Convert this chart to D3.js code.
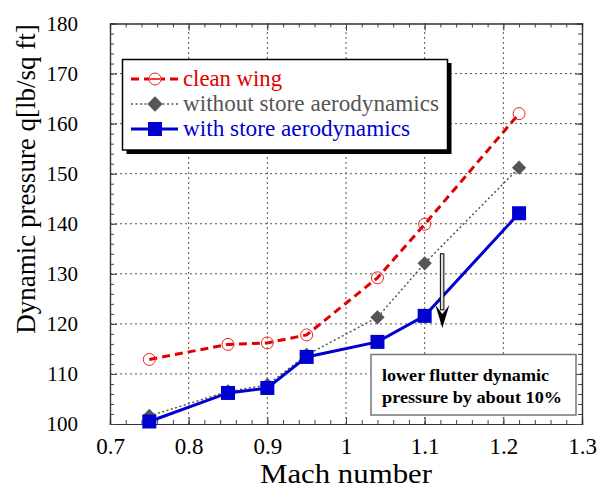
<!DOCTYPE html>
<html>
<head>
<meta charset="utf-8">
<script src="https://cdn.jsdelivr.net/npm/d3@7"></script>
<style>
  body { margin: 0; background: #fff; }
  svg text { font-family: "Liberation Serif", "Times New Roman", serif; }
</style>
</head>
<body>
<div id="chart"></div>
<script>
// values
const mach = [0.75, 0.85, 0.90, 0.95, 1.04, 1.10, 1.22];
const cleanWing = [112.9, 115.9, 116.2, 117.8, 129.2, 139.9, 162.0];
const withoutStoreAero = [101.6, 106.5, 107.8, 113.8, 121.3, 132.1, 151.2];
const withStoreAero = [100.5, 106.2, 107.2, 113.4, 116.4, 121.6, 142.1];

const xTicks = [0.7, 0.8, 0.9, 1.0, 1.1, 1.2, 1.3];
const yTicks = [100, 110, 120, 130, 140, 150, 160, 170, 180];
const seriesNames = ["clean wing", "without store aerodynamics", "with store aerodynamics"];
const noteLines = ["lower flutter dynamic", "pressure by about 10%"];
// arrow: at mach ~1.12, from 134 down to ~119.5
const arrowMach = 1.1225, arrowFrom = 134, arrowTo = 119.2;

const W = 598, H = 490;
const margin = {top: 23.5, right: 16, bottom: 66, left: 110};
const serif = "Liberation Serif";

const svg = d3.select("#chart").append("svg")
    .attr("width", W).attr("height", H)
    .attr("font-family", serif);

const x = d3.scaleLinear().domain([0.7, 1.3]).range([margin.left, W - margin.right]);
const y = d3.scaleLinear().domain([100, 180]).range([H - margin.bottom, margin.top]);

const x0 = x.range()[0], x1 = x.range()[1];
const y0 = y.range()[0], y1 = y.range()[1];

// grid
const grid = svg.append("g").attr("stroke", "#555").attr("stroke-width", 1)
    .attr("stroke-dasharray", "2,3");
grid.selectAll(".gx").data(xTicks.slice(1, -1)).join("line")
    .attr("x1", d => x(d)).attr("x2", d => x(d)).attr("y1", y0).attr("y2", y1);
grid.selectAll(".gy").data(yTicks.slice(1, -1)).join("line")
    .attr("y1", d => y(d)).attr("y2", d => y(d)).attr("x1", x0).attr("x2", x1);

// inward ticks on all four sides
const xMinor = d3.range(0.7, 1.3001, 0.02);
const yMinor = d3.range(100, 180.001, 2);
const fmt = d3.format("~g");

svg.append("g").attr("transform", `translate(0,${y0})`)
    .call(d3.axisBottom(x).tickValues(xMinor).tickSize(-4).tickFormat(""));
svg.append("g").attr("class", "xaxis").attr("transform", `translate(0,${y0})`)
    .call(d3.axisBottom(x).tickValues(xTicks).tickSize(-7).tickPadding(14).tickFormat(fmt));
svg.append("g").attr("transform", `translate(0,${y1})`)
    .call(d3.axisTop(x).tickValues(xMinor).tickSize(-4).tickFormat(""));
svg.append("g").attr("transform", `translate(0,${y1})`)
    .call(d3.axisTop(x).tickValues(xTicks).tickSize(-7).tickFormat(""));
svg.append("g").attr("transform", `translate(${x0},0)`)
    .call(d3.axisLeft(y).tickValues(yMinor).tickSize(-4).tickFormat(""));
svg.append("g").attr("class", "yaxis").attr("transform", `translate(${x0},0)`)
    .call(d3.axisLeft(y).tickValues(yTicks).tickSize(-7).tickPadding(32).tickFormat(fmt));
svg.append("g").attr("transform", `translate(${x1},0)`)
    .call(d3.axisRight(y).tickValues(yMinor).tickSize(-4).tickFormat(""));
svg.append("g").attr("transform", `translate(${x1},0)`)
    .call(d3.axisRight(y).tickValues(yTicks).tickSize(-7).tickFormat(""));

svg.selectAll("g").attr("font-family", serif);
svg.selectAll(".domain").attr("stroke", "#333").attr("stroke-width", 1.2);
svg.selectAll(".tick line").attr("stroke", "#444");
svg.selectAll(".xaxis .tick text").attr("fill", "#000").attr("font-size", 23).attr("font-family", serif);
svg.selectAll(".yaxis .tick text").attr("fill", "#000").attr("font-size", 21).attr("font-family", serif);

// axis titles
svg.append("text").attr("x", (x0 + x1) / 2).attr("y", 482.5)
    .attr("text-anchor", "middle").attr("font-size", 28).attr("font-family", serif)
    .attr("textLength", 172).attr("lengthAdjust", "spacingAndGlyphs")
    .text("Mach number");
svg.append("text").attr("transform", "translate(35,179) rotate(-90)")
    .attr("text-anchor", "middle").attr("font-size", 27).attr("font-family", serif)
    .text("Dynamic pressure q[lb/sq ft]");

// lines
const pts = vals => mach.map((m, i) => [x(m), y(vals[i])]);
const line = d3.line();

const g = svg.append("g");
g.append("path").attr("d", line(pts(withoutStoreAero))).attr("fill", "none")
    .attr("stroke", "#555").attr("stroke-width", 1.5).attr("stroke-dasharray", "2,2.5");
g.selectAll(".dia").data(pts(withoutStoreAero)).join("path")
    .attr("d", d3.symbol(d3.symbolDiamond2, 130))
    .attr("transform", d => `translate(${d[0]},${d[1]})`)
    .attr("fill", "#555");

g.append("path").attr("d", line(pts(cleanWing))).attr("fill", "none")
    .attr("stroke", "#e00000").attr("stroke-width", 3).attr("stroke-dasharray", "8,5");
g.selectAll(".circ").data(pts(cleanWing)).join("circle")
    .attr("cx", d => d[0]).attr("cy", d => d[1]).attr("r", 6)
    .attr("fill", "none").attr("stroke", "#f02020").attr("stroke-width", 1);

g.append("path").attr("d", line(pts(withStoreAero))).attr("fill", "none")
    .attr("stroke", "#0000d0").attr("stroke-width", 3);
g.selectAll(".sq").data(pts(withStoreAero)).join("rect")
    .attr("x", d => d[0] - 7).attr("y", d => d[1] - 7)
    .attr("width", 14).attr("height", 14).attr("fill", "#0000d0");

// legend
const lg = svg.append("g");
lg.append("rect").attr("x", 126.5).attr("y", 63).attr("width", 325).attr("height", 91).attr("fill", "#000");
lg.append("rect").attr("x", 122.5).attr("y", 59.5).attr("width", 325).attr("height", 90.5)
    .attr("fill", "#fff").attr("stroke", "#000").attr("stroke-width", 1.5);
const rowY = [79, 104, 129];
const colors = ["#e00000", "#555", "#0000d0"];
const textW = [99, 256, 227];
const lx0 = 131, lx1 = 178, lxm = 155;
lg.append("line").attr("x1", lx0).attr("x2", lx1).attr("y1", rowY[0]).attr("y2", rowY[0])
    .attr("stroke", colors[0]).attr("stroke-width", 3).attr("stroke-dasharray", "8,5");
lg.append("circle").attr("cx", lxm).attr("cy", rowY[0]).attr("r", 6)
    .attr("fill", "#fff").attr("stroke", "#f02020");
lg.append("line").attr("x1", lxm - 5).attr("x2", lxm + 5).attr("y1", rowY[0]).attr("y2", rowY[0])
    .attr("stroke", colors[0]).attr("stroke-width", 1.5);
lg.append("line").attr("x1", lx0).attr("x2", lx1).attr("y1", rowY[1]).attr("y2", rowY[1])
    .attr("stroke", colors[1]).attr("stroke-width", 1.5).attr("stroke-dasharray", "2,2.5");
lg.append("path").attr("d", d3.symbol(d3.symbolDiamond2, 150))
    .attr("transform", `translate(${lxm},${rowY[1]})`).attr("fill", colors[1]);
lg.append("line").attr("x1", lx0).attr("x2", lx1).attr("y1", rowY[2]).attr("y2", rowY[2])
    .attr("stroke", colors[2]).attr("stroke-width", 3);
lg.append("rect").attr("x", lxm - 7).attr("y", rowY[2] - 7).attr("width", 14).attr("height", 14)
    .attr("fill", colors[2]);
lg.selectAll(".lt").data(seriesNames).join("text")
    .attr("x", 183).attr("y", (d, i) => rowY[i] + 7)
    .attr("fill", (d, i) => colors[i]).attr("font-size", 22.5).attr("font-family", serif)
    .attr("textLength", (d, i) => textW[i]).attr("lengthAdjust", "spacingAndGlyphs")
    .text(d => d);

// annotation box
svg.append("rect").attr("x", 371).attr("y", 354.5).attr("width", 205).attr("height", 60.5)
    .attr("fill", "#fff").attr("stroke", "#777").attr("stroke-width", 1.5);
svg.selectAll(".note").data(noteLines).join("text")
    .attr("x", 382).attr("y", (d, i) => 381 + i * 22)
    .attr("font-size", 17.5).attr("font-weight", "bold").attr("font-family", serif)
    .attr("textLength", (d, i) => [167, 180][i]).attr("lengthAdjust", "spacingAndGlyphs")
    .text(d => d);

// arrow
const ax = x(arrowMach), ay0 = y(arrowFrom), ay1 = y(arrowTo);
svg.append("rect").attr("x", ax - 2).attr("y", ay0).attr("width", 3.5).attr("height", ay1 - ay0 - 18)
    .attr("fill", "#ddd").attr("stroke", "#000").attr("stroke-width", 1);
svg.append("path")
    .attr("d", `M${ax - 7},${ay1 - 23} L${ax},${ay1} L${ax + 7},${ay1 - 23} L${ax},${ay1 - 14} Z`)
    .attr("fill", "#000");
</script>
</body>
</html>
